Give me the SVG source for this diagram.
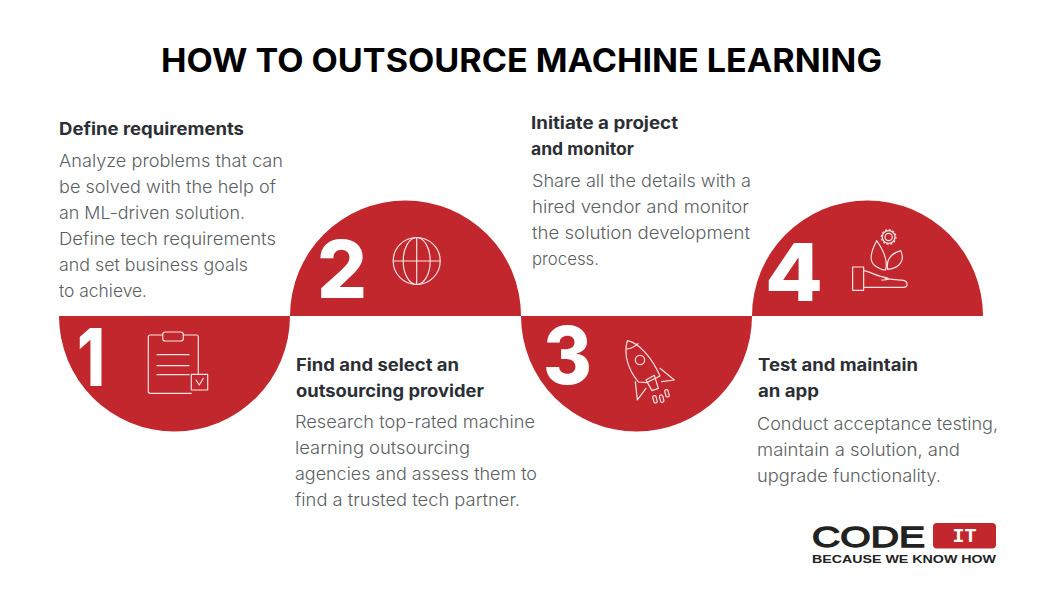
<svg xmlns="http://www.w3.org/2000/svg" width="1042" height="599" viewBox="0 0 1042 599">
<style>
text{font-family:"Inter","Noto Sans","Liberation Sans",sans-serif}
.t{font-size:32px;font-weight:700;fill:#000}
.h{font-size:17px;font-weight:700;fill:#2c2f35}
.b{font-size:17.5px;font-weight:300;fill:#5c5f63}
.n{font-size:80px;font-weight:800;fill:#fff}
.s{fill:#c1272d}
.i{fill:none;stroke:#fbe3e3;stroke-width:1.2;stroke-linejoin:round;stroke-linecap:round}
.z{fill:none;stroke:#fbe3e3;stroke-width:3.6;stroke-linejoin:round;stroke-linecap:round}
</style>
<rect width="1042" height="599" fill="#fff"/>
<text class="t" x="161" y="72" textLength="721" lengthAdjust="spacingAndGlyphs">HOW TO OUTSOURCE MACHINE LEARNING</text>
<g id="connectors"></g>
<g id="step1">
<path class="s" d="M59 316H290A115.500 115.500 0 0 1 59 316Z"/>
<text class="n" x="77" y="386" textLength="28" lengthAdjust="spacingAndGlyphs">1</text>
<g class="i">
<path d="M162.700 335H150.300Q148.300 335 148.300 337V391.300Q148.300 393.300 150.300 393.300H191.300M198.300 374.300V337Q198.300 335 196.300 335H183.300"/>
<rect x="162.700" y="332" width="20.600" height="9" rx="2.500"/>
<path d="M157 354.700H189M157 365.700H189M157 374.700H189"/>
<rect x="191.300" y="374.300" width="16.400" height="15.700"/>
<path d="M196 380L199.300 385L203.300 378.300"/>
</g>
<text class="h" x="59" y="134.500" textLength="185" lengthAdjust="spacingAndGlyphs">Define requirements</text>
<text class="b" x="59" y="166.500" textLength="224" lengthAdjust="spacingAndGlyphs">Analyze problems that can</text>
<text class="b" x="59" y="192.500" textLength="217" lengthAdjust="spacingAndGlyphs">be solved with the help of</text>
<text class="b" x="59" y="218.500" textLength="186" lengthAdjust="spacingAndGlyphs">an ML-driven solution.</text>
<text class="b" x="59" y="244.500" textLength="217" lengthAdjust="spacingAndGlyphs">Define tech requirements</text>
<text class="b" x="59" y="270.500" textLength="189" lengthAdjust="spacingAndGlyphs">and set business goals</text>
<text class="b" x="59" y="296.500" textLength="88" lengthAdjust="spacingAndGlyphs">to achieve.</text>
</g>
<g id="step2">
<path class="s" d="M290 316A115.500 115.500 0 0 1 521 316Z"/>
<text class="n" x="317" y="298" textLength="50" lengthAdjust="spacingAndGlyphs">2</text>
<g class="i">
<circle cx="416.700" cy="261" r="23.500"/>
<ellipse cx="416.700" cy="261" rx="13.500" ry="23.500"/>
<path d="M416.700 237.500V284.500M393.200 261H440.200"/>
</g>
<text class="h" x="296" y="370.500" textLength="163" lengthAdjust="spacingAndGlyphs">Find and select an</text>
<text class="h" x="296" y="396.500" textLength="188" lengthAdjust="spacingAndGlyphs">outsourcing provider</text>
<text class="b" x="295" y="427.500" textLength="240" lengthAdjust="spacingAndGlyphs">Research top-rated machine</text>
<text class="b" x="295" y="453.500" textLength="175" lengthAdjust="spacingAndGlyphs">learning outsourcing</text>
<text class="b" x="295" y="479.500" textLength="242" lengthAdjust="spacingAndGlyphs">agencies and assess them to</text>
<text class="b" x="295" y="505.500" textLength="225" lengthAdjust="spacingAndGlyphs">find a trusted tech partner.</text>
</g>
<g id="step3">
<path class="s" d="M521 316H752A115.500 115.500 0 0 1 521 316Z"/>
<text class="n" x="543" y="384" textLength="49" lengthAdjust="spacingAndGlyphs">3</text>
<g transform="translate(520 200) scale(.3333)" class="z">
<path d="M322 422C355 428 395 470 420 528L380 548L355 546C325 510 310 465 322 422Z"/>
<path d="M320 447C332 446 345 440 354 431"/>
<circle cx="360" cy="480" r="14"/>
<path d="M378 540L403 526L415 565L396 572Z"/>
<path d="M420 505L463 540L425 545M346 545L352 600L378 565"/>
<rect x="-5" y="-11" width="10" height="22" rx="4" transform="translate(405 598) rotate(-15)"/>
<rect x="-5" y="-11" width="10" height="22" rx="4" transform="translate(425 596) rotate(-15)"/>
<rect x="-5" y="-11" width="10" height="22" rx="4" transform="translate(441 580) rotate(-15)"/>
</g>
<text class="h" x="531" y="128.500" textLength="147" lengthAdjust="spacingAndGlyphs">Initiate a project</text>
<text class="h" x="531" y="154.500" textLength="103" lengthAdjust="spacingAndGlyphs">and monitor</text>
<text class="b" x="532" y="186.500" textLength="219" lengthAdjust="spacingAndGlyphs">Share all the details with a</text>
<text class="b" x="532" y="212.500" textLength="217" lengthAdjust="spacingAndGlyphs">hired vendor and monitor</text>
<text class="b" x="532" y="238.500" textLength="218" lengthAdjust="spacingAndGlyphs">the solution development</text>
<text class="b" x="532" y="264.500" textLength="67" lengthAdjust="spacingAndGlyphs">process.</text>
</g>
<g id="step4">
<path class="s" d="M752 316A115.500 115.500 0 0 1 983 316Z"/>
<text class="n" x="765" y="301" textLength="58" lengthAdjust="spacingAndGlyphs">4</text>
<g transform="translate(520 200) scale(.3333)" class="z">
<rect x="998" y="201" width="33" height="70"/>
<path d="M1031 212C1050 215 1070 228 1095 232C1112 236 1108 240 1085 240M1095 236L1150 241C1165 244 1165 262 1150 262H1065L1031 262"/>
<path d="M1070 122C1050 160 1048 185 1065 197C1078 206 1090 210 1097 210C1105 180 1090 150 1070 122Z"/>
<path d="M1103 208C1098 178 1115 160 1142 152C1156 180 1140 205 1103 208Z"/>
<circle cx="1106" cy="111" r="11"/>
<circle cx="1106" cy="111" r="19"/>
<circle cx="1106" cy="111" r="22" stroke-dasharray="6 5.500" stroke-linecap="butt"/>
</g>
<text class="h" x="758" y="370.500" textLength="160" lengthAdjust="spacingAndGlyphs">Test and maintain</text>
<text class="h" x="758" y="396.500" textLength="61" lengthAdjust="spacingAndGlyphs">an app</text>
<text class="b" x="757" y="429.500" textLength="241" lengthAdjust="spacingAndGlyphs">Conduct acceptance testing,</text>
<text class="b" x="757" y="455.500" textLength="203" lengthAdjust="spacingAndGlyphs">maintain a solution, and</text>
<text class="b" x="757" y="481.500" textLength="184" lengthAdjust="spacingAndGlyphs">upgrade functionality.</text>
</g>
<g id="logo">
<text x="812" y="547" font-size="29" font-weight="400" fill="#222" stroke="#222" stroke-width="1.300" textLength="113" lengthAdjust="spacingAndGlyphs" style="font-family:'Liberation Sans',sans-serif">CODE</text>
<rect x="933" y="523" width="63" height="25.500" rx="4" fill="#c1272d"/>
<text x="964.500" y="542" font-size="20" font-weight="700" fill="#fff" text-anchor="middle" style="font-family:'Liberation Mono',monospace">IT</text>
<text x="812" y="563" font-size="10.500" font-weight="700" fill="#222" textLength="184" lengthAdjust="spacingAndGlyphs" style="font-family:'Liberation Sans',sans-serif">BECAUSE WE KNOW HOW</text>
</g>
</svg>
